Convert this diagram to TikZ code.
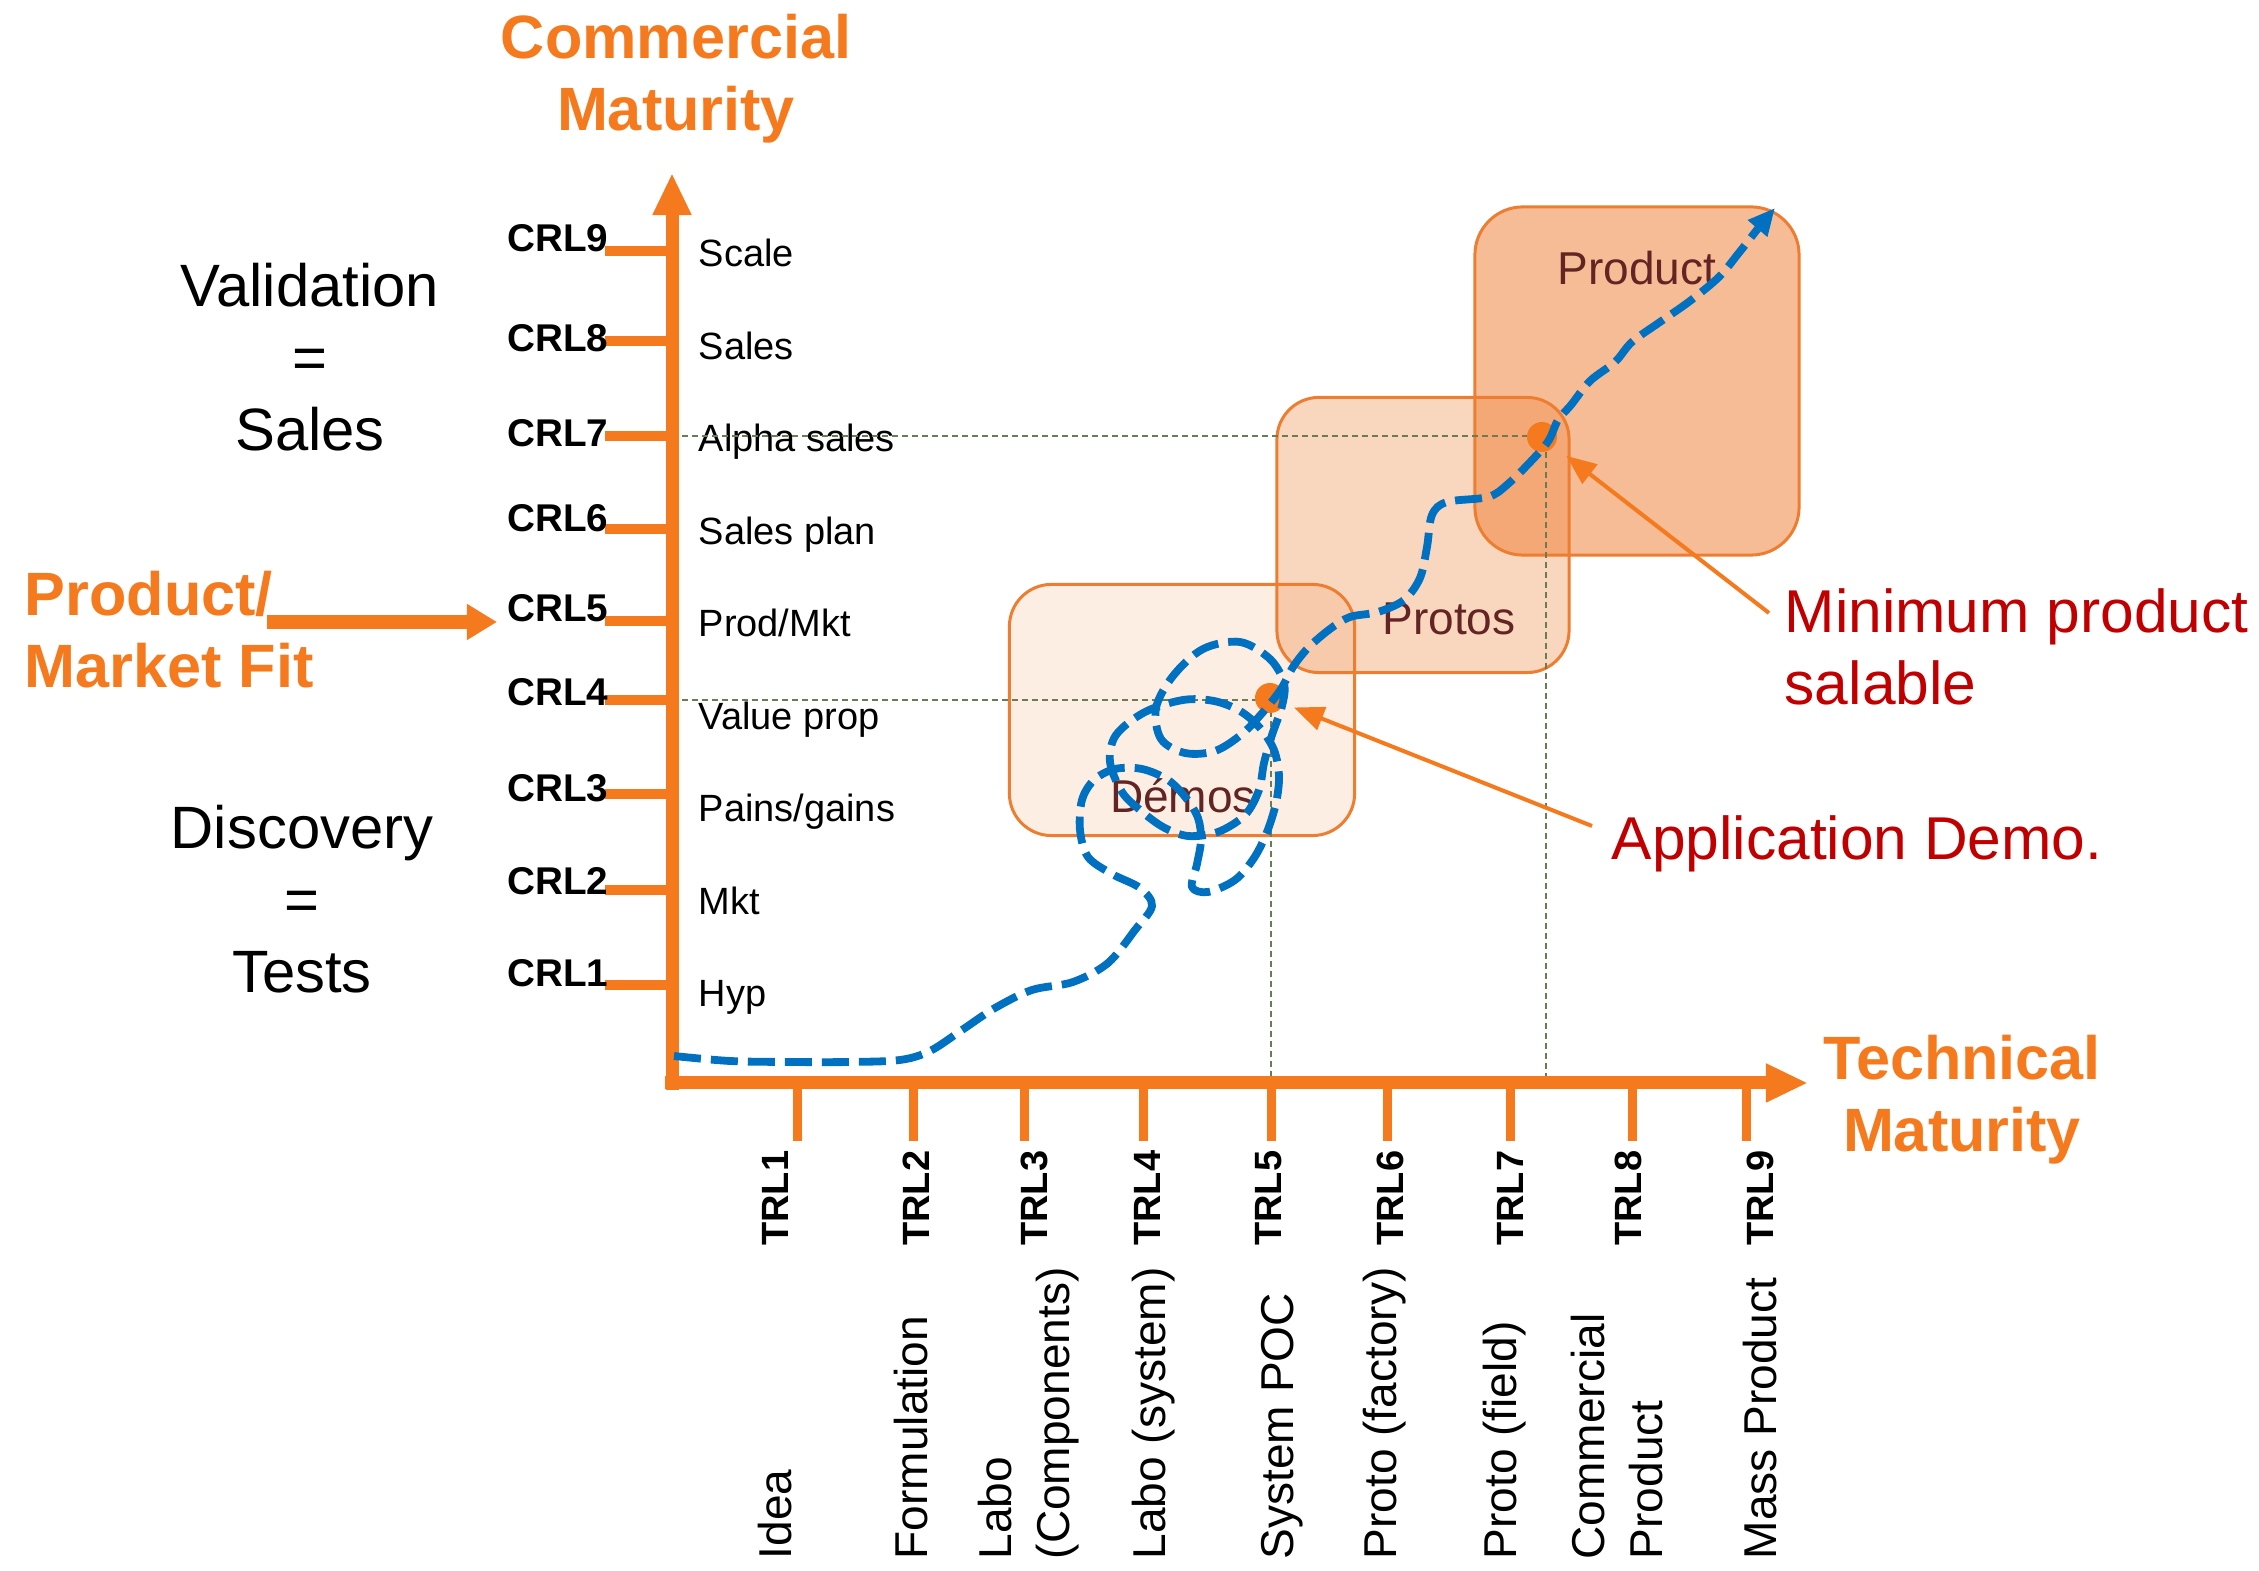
\documentclass[tikz,border=0pt]{standalone}
\usepackage{fontspec}
\setmainfont{Liberation Sans}
\usetikzlibrary{arrows.meta}
\definecolor{trlorange}{RGB}{245,122,30}
\definecolor{boxorange}{RGB}{237,125,49}
\definecolor{pathblue}{RGB}{0,112,192}
\definecolor{notered}{RGB}{192,0,0}
\definecolor{boxbrown}{RGB}{99,37,35}
\definecolor{guidegray}{RGB}{105,125,85}
\begin{document}
\begin{tikzpicture}[x=0.01cm, y=-0.01cm, line join=round,
    >={Triangle[length=0.42cm, width=0.36cm]},
    axis/.style={draw=trlorange, line width=0.13cm},
    crltick/.style={draw=trlorange, line width=0.1cm},
    trltick/.style={draw=trlorange, line width=0.09cm},
    crllabel/.style={font=\fontsize{11}{13}\selectfont\bfseries, anchor=base east, inner sep=0},
    trllabel/.style={font=\fontsize{10.8}{13}\selectfont\bfseries, rotate=90, anchor=east, inner sep=0},
    crlstep/.style={font=\fontsize{10.8}{13}\selectfont, anchor=base west, inner sep=0},
    trldesc/.style={font=\fontsize{13.1}{16.5}\selectfont, rotate=90, anchor=west, align=left, inner sep=0},
    stage/.style={draw=boxorange, line width=0.03cm, fill=boxorange, rounded corners=0.42cm, inner sep=0},
    stagename/.style={text=boxbrown, font=\fontsize{13.1}{15}\selectfont, anchor=base, inner sep=0},
    milestone/.style={circle, fill=trlorange, minimum size=0.3cm, inner sep=0},
    guide/.style={draw=guidegray, line width=0.012cm, dash pattern=on 0.06cm off 0.04cm},
    axistitle/.style={text=trlorange, font=\fontsize{17.4}{20.5}\selectfont\bfseries, align=center, inner sep=0},
    phase/.style={font=\fontsize{17}{20.5}\selectfont, align=center, inner sep=0},
    note/.style={text=notered, font=\fontsize{17.2}{20.5}\selectfont, align=left, anchor=west, inner sep=0},
    pointer/.style={draw=trlorange, line width=0.04cm, -{Triangle[length=0.3cm, width=0.24cm]}},
    journey/.style={draw=pathblue, line width=0.078cm, dash pattern=on 0.27cm off 0.1cm,
        -{Triangle[length=0.27cm, width=0.24cm]}}]
    \useasboundingbox (0,0) rectangle (2259,1571);
    \node[stage, fill opacity=0.13, minimum width=3.45cm, minimum height=2.51cm] (demos) at (1182,710) {};
    \node[stage, fill opacity=0.315, minimum width=2.92cm, minimum height=2.75cm] (protos) at (1423,535) {};
    \node[stage, fill opacity=0.515, minimum width=3.24cm, minimum height=3.48cm, rounded corners=0.48cm] (product) at (1637,381) {};
    \node[stagename] (demosname) at (1183,813) {Démos};
    \node[stagename] (protosname) at (1449,635) {Protos};
    \node[stagename] (productname) at (1637,285) {Product};
    \foreach \n/\yt/\yb in {1/985/987, 2/890/895, 3/794/802, 4/700/706, 5/621/622, 6/529/532, 7/436/447, 8/341/352, 9/251/252}{
        \coordinate (c\n) at (672,\yt);
        \draw[crltick] (605,\yt) -- (c\n);
        \node[crllabel] (crl\n) at (609,\yb) {CRL\n};
    }
    \foreach \n/\txt in {1/Hyp, 2/Mkt, 3/{Pains/gains}, 4/Value prop, 5/{Prod/Mkt}, 6/Sales plan, 7/Alpha sales, 8/Sales, 9/Scale}
        \node[crlstep] (step\n) at (698,{267+92.5*(9-\n)}) {\txt};
    \foreach \n/\xt/\xl/\xd/\desc in {1/797/775/775/Idea, 2/913/916/911/Formulation, 3/1024/1034/1029/{Labo\\(Components)},
        4/1143/1147/1154/{Labo (system)}, 5/1271/1269/1282/{System POC}, 6/1387/1390/1385/{Proto (factory)},
        7/1510/1510/1505/{Proto (field)}, 8/1632/1628/1617/{Commercial\\Product}, 9/1746/1760/1760/{Mass Product}}{
        \coordinate (t\n) at (\xt,1083);
        \draw[trltick] (t\n) -- (\xt,1141);
        \node[trllabel] (trl\n) at (\xl,1150) {TRL\n};
        \node[trldesc] (desc\n) at (\xd,1560) {\desc};
    }
    \coordinate (tm) at (1546,1083);
    \draw[guide] (c4) -| (t5);
    \draw[guide] (c7) -| (tm);
    \coordinate (ybot) at (672,1090);
    \coordinate (ytop) at (672,173);
    \coordinate (xbot) at (665,1083);
    \coordinate (xtop) at (1808,1083);
    \draw[axis, ->] (ybot) -- (ytop);
    \draw[axis, ->] (xbot) -- (xtop);
    \node[milestone] (demodot) at (1270,698) {};
    \node[milestone] (mvpdot) at (1542,437) {};
    \node[axistitle, anchor=north] (commercial) at (676,13) {Commercial\\Maturity};
    \node[axistitle, anchor=north] (technical) at (1962,1034) {Technical\\Maturity};
    \node[axistitle, anchor=north west, align=left] (pmf) at (24,570) {Product/\\Market Fit};
    \coordinate (pmfstart) at (267,622);
    \coordinate (pmfend) at (497,622);
    \draw[axis, line width=0.14cm, -{Triangle[length=0.3cm, width=0.34cm]}] (pmfstart) -- (pmfend);
    \node[phase] (validation) at (310,357) {Validation\\=\\Sales};
    \node[phase] (discovery) at (302,899) {Discovery\\=\\Tests};
    \draw[journey] plot[smooth, tension=0.55] coordinates {(674,1056) (730,1061) (790,1062) (850,1062) (900,1060)
        (930,1051) (962,1030) (995,1008) (1032,990) (1073,982) (1108,963) (1135,930) (1152,906)
        (1140,888) (1112,874) (1088,857) (1080,830) (1082,800) (1094,780) (1115,769) (1142,769) (1168,780)
        (1186,798) (1198,818) (1201,840) (1197,864) (1192,887)
        (1208,892) (1235,880) (1254,858) (1267,832) (1276,803) (1279,776) (1274,750) (1260,728) (1240,711)
        (1214,701) (1183,700) (1145,712) (1116,735) (1110,762)
        (1122,792) (1140,810) (1163,827) (1188,836) (1218,832) (1245,815) (1259,790) (1264,763)
        (1272,735) (1282,706) (1284,683) (1270,659) (1240,642) (1203,649) (1173,676) (1156,708) (1161,739)
        (1185,753) (1215,751) (1242,734) (1264,711) (1281,689) (1293,667) (1308,648) (1330,629)
        (1350,617) (1378,612) (1404,600) (1420,578) (1427,547) (1432,515) (1447,502) (1488,497) (1508,484)
        (1535,457) (1549,440) (1558,420) (1571,405) (1590,381) (1615,362) (1632,342) (1660,322) (1690,301)
        (1719,277) (1738,254) (1760,226) (1775,208)};
    \node[note] (appdemo) at (1611,844) {Application Demo.};
    \node[note] (minprod) at (1784,647) {Minimum product\\salable};
    \coordinate (appstart) at (1592,826);
    \coordinate (mpstart) at (1769,613);
    \draw[pointer, shorten >=0.1cm] (appstart) -- (demodot);
    \draw[pointer, shorten >=0.15cm] (mpstart) -- (mvpdot);
\end{tikzpicture}
\end{document}
